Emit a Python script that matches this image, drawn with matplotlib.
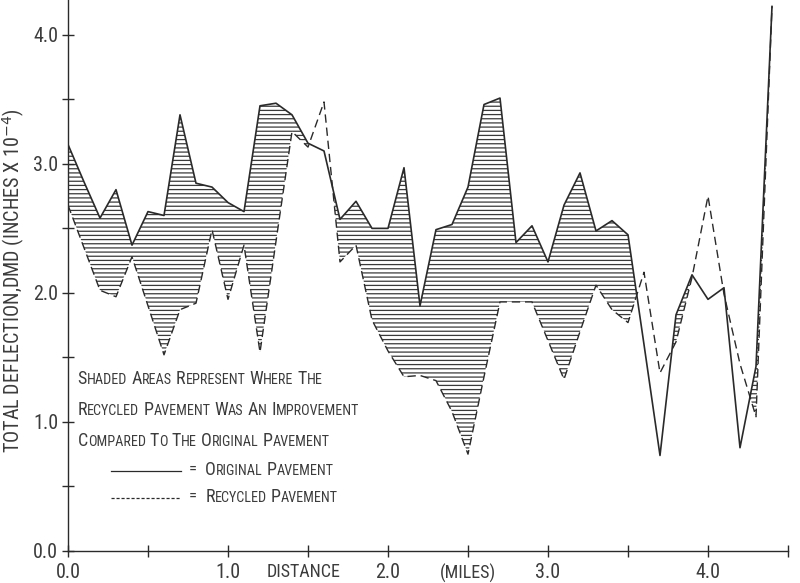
import matplotlib
matplotlib.use('Agg')
import matplotlib.pyplot as plt
from matplotlib.lines import Line2D
from matplotlib.offsetbox import TextArea, HPacker, DrawingArea, AnnotationBbox

plt.rcParams['font.family'] = ['Roboto Condensed', 'Liberation Sans Narrow',
                               'Liberation Sans', 'DejaVu Sans']
plt.rcParams['hatch.linewidth'] = 0.9

# distance along the road (miles), one reading every 0.1 mile
distance = [0.0, 0.1, 0.2, 0.3, 0.4, 0.5, 0.6, 0.7, 0.8, 0.9,
            1.0, 1.1, 1.2, 1.3, 1.4, 1.5, 1.6, 1.7, 1.8, 1.9,
            2.0, 2.1, 2.2, 2.3, 2.4, 2.5, 2.6, 2.7, 2.8, 2.9,
            3.0, 3.1, 3.2, 3.3, 3.4, 3.5, 3.6, 3.7, 3.8, 3.9,
            4.0, 4.1, 4.2, 4.3, 4.4]

# total deflection, inches x 10^-4
original = [3.15, 2.86, 2.58, 2.80, 2.37, 2.63, 2.60, 3.38, 2.85, 2.82,
            2.70, 2.63, 3.45, 3.47, 3.38, 3.16, 3.10, 2.57, 2.71, 2.50,
            2.50, 2.97, 1.90, 2.49, 2.53, 2.82, 3.46, 3.51, 2.39, 2.52,
            2.24, 2.68, 2.93, 2.48, 2.56, 2.45, 1.60, 0.74, 1.83, 2.14,
            1.95, 2.04, 0.80, 1.43, 4.22]

recycled = [2.68, 2.35, 2.02, 1.97, 2.28, 1.90, 1.52, 1.87, 1.92, 2.49,
            1.95, 2.37, 1.54, 2.40, 3.25, 3.13, 3.48, 2.24, 2.37, 1.79,
            1.55, 1.35, 1.36, 1.32, 1.08, 0.75, 1.35, 1.93, 1.93, 1.93,
            1.63, 1.33, 1.70, 2.06, 1.87, 1.77, 2.16, 1.38, 1.62, 2.12,
            2.75, 1.99, 1.45, 1.04, 4.22]

x_ticks = [0.0, 1.0, 2.0, 3.0, 4.0]
x_tick_labels = ['0.0', '1.0', '2.0', '3.0', '4.0']
y_ticks = [0.0, 1.0, 2.0, 3.0, 4.0]
y_tick_labels = ['0.0', '1.0', '2.0', '3.0', '4.0']

note_lines = ['Shaded Areas Represent Where The',
              'Recycled Pavement Was An Improvement',
              'Compared To The Original Pavement']

INK = '#2a2a2a'
TXT = '#3c3c3c'


def small_caps(text, big=13.0, small=10.2):
    # old plotter style lettering: capital first letter, smaller caps after
    parts = []
    for i, word in enumerate(text.split(' ')):
        if i:
            parts.append(TextArea(' ', textprops=dict(fontsize=big, color=TXT)))
        parts.append(TextArea(word[0], textprops=dict(fontsize=big, color=TXT)))
        if len(word) > 1:
            parts.append(TextArea(word[1:].upper(), textprops=dict(fontsize=small, color=TXT)))
    return HPacker(children=parts, align='baseline', pad=0, sep=0)


def place(ax, box, xy):
    ab = AnnotationBbox(box, xy, xycoords='data', box_alignment=(0, 0.5),
                        frameon=False, pad=0)
    ax.add_artist(ab)


fig = plt.figure(figsize=(8, 5.83), dpi=100)
ax = fig.add_axes([0.085, 0.055, 0.9, 0.945])

ax.fill_between(distance, original, recycled,
                where=[o > r for o, r in zip(original, recycled)],
                interpolate=True, facecolor='none', edgecolor='#3a3a3a',
                hatch='----', linewidth=0)
ax.plot(distance, original, color=INK, lw=1.2)
ax.plot(distance, recycled, color=INK, lw=1.0, dashes=(6, 3.5))

ax.set_xlim(0, 4.48)
ax.set_ylim(0, 4.27)

for s in ['top', 'right']:
    ax.spines[s].set_visible(False)
for s in ['left', 'bottom']:
    ax.spines[s].set_color(INK)
    ax.spines[s].set_linewidth(1.0)

ax.set_xticks(x_ticks)
ax.set_xticklabels(x_tick_labels)
ax.set_xticks([0.5, 1.5, 2.5, 3.5, 4.5], minor=True)
ax.set_yticks(y_ticks)
ax.set_yticklabels(y_tick_labels)
ax.set_yticks([0.5, 1.5, 2.5, 3.5], minor=True)
ax.tick_params(which='both', direction='inout', length=8, width=1.0,
               color=INK, labelsize=14.5, labelcolor=TXT)
ax.tick_params(axis='x', pad=5)
ax.tick_params(axis='y', pad=3)

for label, xpos in [('DISTANCE', 1.47), ('(MILES)', 2.50)]:
    ax.annotate(label, xy=(xpos, 0), xycoords=('data', 'axes fraction'),
                xytext=(0, -9), textcoords='offset points',
                ha='center', va='top', fontsize=13, color=TXT)

ax.set_ylabel('TOTAL DEFLECTION,DMD (INCHES X 10$^{-4}$)', fontsize=14.5, color=TXT)
ax.yaxis.set_label_coords(-0.057, 0.49)

for line, yv in zip(note_lines, [1.33, 1.09, 0.85]):
    place(ax, small_caps(line), (0.06, yv))

# hand-drawn style key below the note
for style, name, yv in [('-', 'Original Pavement', 0.63),
                        ('--', 'Recycled Pavement', 0.42)]:
    da = DrawingArea(50, 10, 0, 0)
    seg = Line2D([0, 50], [4, 4], color=INK, lw=0.9)
    if style == '--':
        seg.set_dashes((2.5, 1.5))
    da.add_artist(seg)
    eq = TextArea('=', textprops=dict(fontsize=12, color=TXT))
    row = HPacker(children=[da, eq, small_caps(name)], align='center', pad=0, sep=6)
    place(ax, row, (0.27, yv))

fig.savefig('out.png', dpi=100)
